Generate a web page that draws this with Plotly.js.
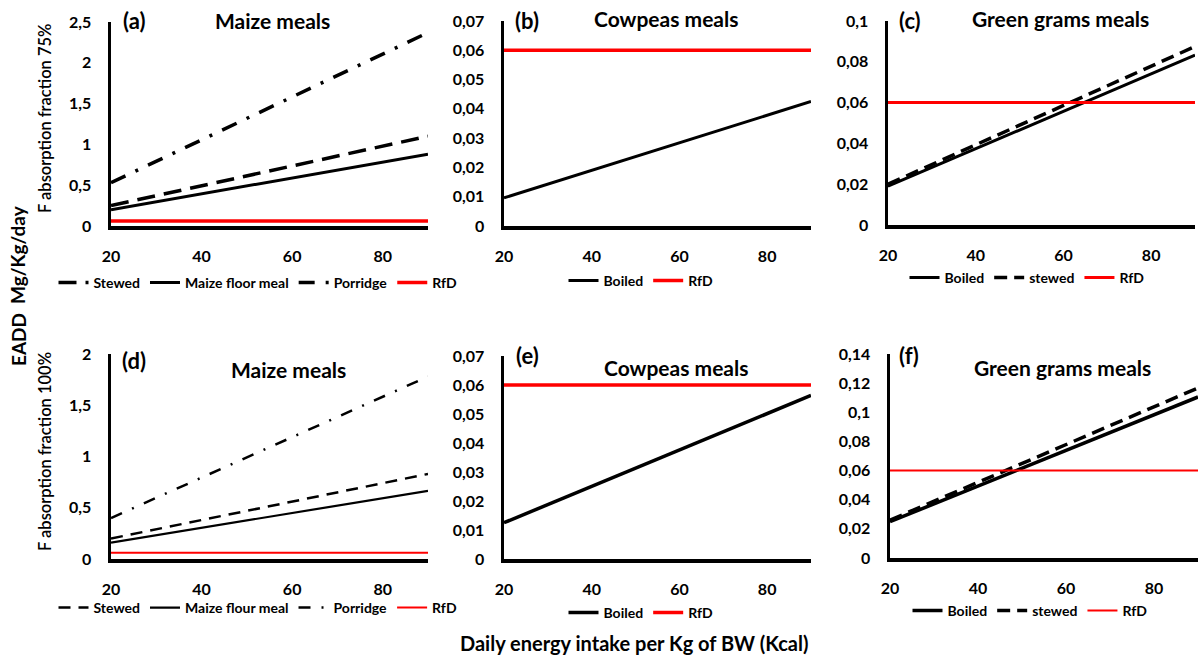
<!DOCTYPE html>
<html>
<head>
<meta charset="utf-8">
<script src="https://cdn.plot.ly/plotly-3.0.1.min.js"></script>
<style>html,body{margin:0;padding:0;background:#fff}#chart{width:1202px;height:656px}</style>
</head>
<body>
<div id="chart"></div>
<script>
// ---- data ----
const xKcal = [20, 90];
const rfd = [0.06, 0.06];
// (a) Maize meals, F absorption 75%
const aStewed = [0.25, 1.10];
const aMaize = [0.20, 0.88];
const aPorridge = [0.53, 2.37];
// (b) Cowpeas meals, 75%
const bBoiled = [0.0096, 0.0425];
// (c) Green grams meals, 75%
const cBoiled = [0.019, 0.0833];
const cStewed = [0.020, 0.0875];
// (d) Maize meals, 100%
const dStewed = [0.20, 0.83];
const dMaize = [0.16, 0.665];
const dPorridge = [0.40, 1.78];
// (e) Cowpeas meals, 100%
const eBoiled = [0.0125, 0.0564];
// (f) Green grams meals, 100%
const fBoiled = [0.0249, 0.1105];
const fStewed = [0.026, 0.1167];

const xTicks = [20, 40, 60, 80];
const panelTitles = ['Maize meals', 'Cowpeas meals', 'Green grams meals', 'Maize meals', 'Cowpeas meals', 'Green grams meals'];
const panelLetters = ['(a)', '(b)', '(c)', '(d)', '(e)', '(f)'];

// ---- layout helpers ----
const W = 1202, H = 656;
const px = x => x / W;
const py = y => 1 - y / H;
const FONT = 'Lato, Carlito, "Open Sans", sans-serif';
const BLACK = '#000000', RED = '#ff0000';

const boxes = [
  [111, 428, 22, 226],
  [504, 811, 21, 226],
  [888, 1195, 21, 225],
  [111, 428, 354, 559],
  [504, 811, 356, 559],
  [890, 1198, 354, 558]
];
const yRanges = [[0, 2.5], [0, 0.07], [0, 0.1], [0, 2], [0, 0.07], [0, 0.14]];
const yDticks = [0.5, 0.01, 0.02, 0.5, 0.01, 0.02];

function tr(i, y, name, color, width, dash, legend) {
  const s = i === 0 ? '' : String(i + 1);
  return {
    x: xKcal, y: y, name: name, type: 'scatter', mode: 'lines',
    xaxis: 'x' + s, yaxis: 'y' + s, legend: legend,
    line: {color: color, width: width, dash: dash}, hoverinfo: 'skip'
  };
}

const traces = [
  tr(0, aStewed, 'Stewed', BLACK, 3.5, '18px,9px', 'legend'),
  tr(0, aMaize, 'Maize floor meal', BLACK, 3, 'solid', 'legend'),
  tr(0, aPorridge, 'Porridge', BLACK, 3.5, '16px,11px,3px,11px', 'legend'),
  tr(0, rfd, 'RfD', RED, 3.5, 'solid', 'legend'),
  tr(1, bBoiled, 'Boiled', BLACK, 3, 'solid', 'legend2'),
  tr(1, rfd, 'RfD', RED, 3.5, 'solid', 'legend2'),
  tr(2, cBoiled, 'Boiled', BLACK, 3, 'solid', 'legend3'),
  tr(2, cStewed, 'stewed', BLACK, 3.5, '13px,7px', 'legend3'),
  tr(2, rfd, 'RfD', RED, 3, 'solid', 'legend3'),
  tr(3, dStewed, 'Stewed', BLACK, 2.5, '12px,8px', 'legend4'),
  tr(3, dMaize, 'Maize flour meal', BLACK, 2.2, 'solid', 'legend4'),
  tr(3, dPorridge, 'Porridge', BLACK, 2.5, '12px,11px,2px,11px', 'legend4'),
  tr(3, rfd, 'RfD', RED, 2, 'solid', 'legend4'),
  tr(4, eBoiled, 'Boiled', BLACK, 3.5, 'solid', 'legend5'),
  tr(4, rfd, 'RfD', RED, 3.5, 'solid', 'legend5'),
  tr(5, fBoiled, 'Boiled', BLACK, 3.5, 'solid', 'legend6'),
  tr(5, fStewed, 'stewed', BLACK, 3.5, '13px,7px', 'legend6'),
  tr(5, rfd, 'RfD', RED, 2, 'solid', 'legend6')
];

const layout = {
  width: W, height: H,
  margin: {l: 0, r: 0, t: 0, b: 0},
  paper_bgcolor: '#ffffff', plot_bgcolor: '#ffffff',
  separators: ', ',
  font: {family: FONT, color: BLACK, size: 15},
  showlegend: true,
  annotations: []
};

const legendPos = [[258, 283], [641, 281], [1027, 278], [258, 608], [641, 613], [1030, 611]];

boxes.forEach((b, i) => {
  const s = i === 0 ? '' : String(i + 1);
  layout['xaxis' + s] = {
    domain: [px(b[0]), px(b[1])], anchor: 'y' + s, range: [20, 90],
    tickvals: xTicks, showgrid: false, zeroline: false,
    showline: true, linecolor: BLACK, linewidth: 3.5,
    ticks: '', ticklabelstandoff: 13,
    tickfont: {family: FONT, size: 16, color: BLACK, weight: 'bold'}
  };
  layout['yaxis' + s] = {
    domain: [py(b[3]), py(b[2])], anchor: 'x' + s, range: yRanges[i],
    dtick: yDticks[i], tick0: 0, showgrid: false, zeroline: false,
    showline: true, linecolor: BLACK, linewidth: 3.5,
    ticks: '', ticklabelstandoff: 13,
    tickfont: {family: FONT, size: 16, color: BLACK, weight: 'bold'}
  };
  const ln = i === 0 ? 'legend' : 'legend' + (i + 1);
  layout[ln] = {
    orientation: 'h', x: px(legendPos[i][0]), y: py(legendPos[i][1]),
    xanchor: 'center', yanchor: 'middle', xref: 'paper', yref: 'paper',
    font: {family: FONT, size: 14, color: BLACK, weight: 'bold'},
    bgcolor: 'rgba(0,0,0,0)', itemwidth: 30, tracegroupgap: 0,
    traceorder: 'normal'
  };
});

const titlePos = [[272, 20], [666, 19], [1060, 19], [288, 369], [676, 367], [1062, 367]];
const letterPos = [[134, 20], [527, 20], [910, 20], [134, 360], [527, 355], [909, 355]];
titlePos.forEach((p, i) => {
  layout.annotations.push({
    text: panelTitles[i], x: px(p[0]), y: py(p[1]), xref: 'paper', yref: 'paper',
    xanchor: 'center', yanchor: 'middle', showarrow: false,
    font: {family: FONT, size: 21, color: BLACK, weight: 'bold'}
  });
  layout.annotations.push({
    text: panelLetters[i], x: px(letterPos[i][0]), y: py(letterPos[i][1]), xref: 'paper', yref: 'paper',
    xanchor: 'center', yanchor: 'middle', showarrow: false,
    font: {family: FONT, size: 22, color: BLACK, weight: 'bold'}
  });
});

// axis-title style texts
layout.annotations.push({
  text: 'F absorption fraction 75%', x: px(45), y: py(118), xref: 'paper', yref: 'paper',
  textangle: -90, showarrow: false, xanchor: 'center', yanchor: 'middle',
  font: {family: FONT, size: 16.5, color: BLACK, weight: 600}
});
layout.annotations.push({
  text: 'F absorption fraction 100%', x: px(45), y: py(452), xref: 'paper', yref: 'paper',
  textangle: -90, showarrow: false, xanchor: 'center', yanchor: 'middle',
  font: {family: FONT, size: 16.5, color: BLACK, weight: 600}
});
layout.annotations.push({
  text: 'Mg/Kg/day', x: px(18), y: py(255), xref: 'paper', yref: 'paper',
  textangle: -90, showarrow: false, xanchor: 'center', yanchor: 'middle',
  font: {family: FONT, size: 19, color: BLACK, weight: 'bold'}
});
layout.annotations.push({
  text: 'EADD', x: px(18), y: py(340), xref: 'paper', yref: 'paper',
  textangle: -90, showarrow: false, xanchor: 'center', yanchor: 'middle',
  font: {family: FONT, size: 19, color: BLACK, weight: 'bold'}
});
layout.annotations.push({
  text: 'Daily energy intake per Kg of BW (Kcal)', x: px(634), y: py(643), xref: 'paper', yref: 'paper',
  showarrow: false, xanchor: 'center', yanchor: 'middle',
  font: {family: FONT, size: 20, color: BLACK, weight: 'bold'}
});

Plotly.newPlot('chart', traces, layout, {displayModeBar: false, staticPlot: true});
</script>
</body>
</html>
